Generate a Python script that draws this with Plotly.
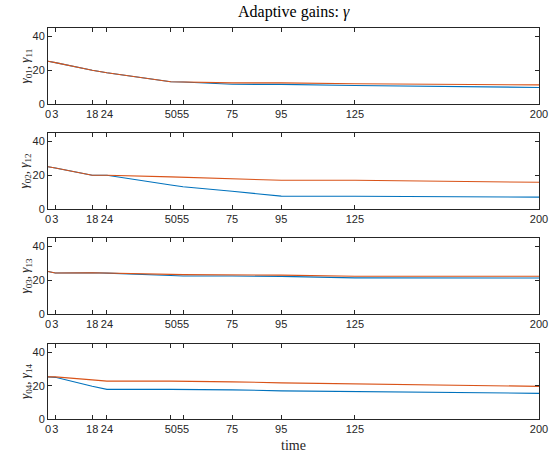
import plotly.graph_objects as go

t = [0, 3, 18, 24, 50, 55, 75, 95, 125, 200]
tick_vals = [0, 3, 18, 24, 50, 55, 75, 95, 125, 200]
tick_text = ["0", "3", "18", "24", "50", "55", "75", "95", "125", "200"]

g01 = [25.3, 24.5, 20.0, 18.5, 13.2, 13.0, 11.7, 11.6, 11.0, 9.8]
g11 = [25.3, 24.5, 20.0, 18.5, 13.2, 13.0, 12.5, 12.5, 12.0, 11.3]
g02 = [25.0, 24.3, 20.0, 20.0, 14.2, 13.2, 10.5, 7.6, 7.5, 7.0]
g12 = [25.0, 24.3, 20.0, 20.0, 19.0, 18.8, 18.0, 17.0, 17.0, 15.8]
g03 = [25.2, 24.3, 24.4, 24.2, 22.8, 22.5, 22.5, 22.3, 21.4, 21.3]
g13 = [25.2, 24.3, 24.4, 24.3, 23.5, 23.3, 23.3, 23.0, 22.4, 22.4]
g04 = [25.3, 25.0, 19.6, 17.8, 17.8, 17.8, 17.5, 16.9, 16.4, 15.4]
g14 = [25.3, 25.3, 23.5, 22.7, 22.7, 22.7, 22.3, 21.7, 21.0, 19.6]

blue_series = [g01, g02, g03, g04]
red_series = [g11, g12, g13, g14]
ylabels = ["<i>γ</i><sub>01</sub>, <i>γ</i><sub>11</sub>", "<i>γ</i><sub>02</sub>, <i>γ</i><sub>12</sub>",
           "<i>γ</i><sub>03</sub>, <i>γ</i><sub>13</sub>", "<i>γ</i><sub>04</sub>, <i>γ</i><sub>14</sub>"]

domains = [(0.8056, 1.0), (0.5371, 0.7315), (0.2685, 0.4629), (0.0, 0.1918)]
axc = "#262626"
fig = go.Figure()
for i in range(4):
    xa = "x" if i == 0 else f"x{i+1}"
    ya = "y" if i == 0 else f"y{i+1}"
    fig.add_trace(go.Scatter(x=t, y=blue_series[i], mode="lines",
                             line=dict(color="#0072BD", width=1.1),
                             xaxis=xa, yaxis=ya, showlegend=False))
    fig.add_trace(go.Scatter(x=t, y=red_series[i], mode="lines",
                             line=dict(color="#D95319", width=1.1),
                             xaxis=xa, yaxis=ya, showlegend=False))
    xkey = "xaxis" if i == 0 else f"xaxis{i+1}"
    ykey = "yaxis" if i == 0 else f"yaxis{i+1}"
    fig.layout[xkey] = dict(domain=[0, 1], anchor=ya, range=[0, 200],
                            tickvals=tick_vals, ticktext=tick_text, tickangle=0,
                            ticklabeloverflow="allow",
                            ticks="inside", ticklen=4, tickcolor=axc,
                            showline=True, mirror="ticks", linecolor=axc, linewidth=1,
                            showgrid=False, zeroline=False,
                            tickfont=dict(family="Liberation Sans", size=11, color=axc))
    fig.layout[ykey] = dict(domain=list(domains[i]), anchor=xa, range=[0, 45],
                            tickvals=[0, 20, 40], tickangle=0,
                            ticks="inside", ticklen=4, tickcolor=axc,
                            showline=True, mirror="ticks", linecolor=axc, linewidth=1,
                            showgrid=False, zeroline=False,
                            tickfont=dict(family="Liberation Sans", size=11, color=axc))
    ymid = (domains[i][0] + domains[i][1]) / 2
    fig.add_annotation(text=ylabels[i], xref="paper", yref="paper",
                       x=-0.046, y=ymid, xanchor="center", yanchor="middle",
                       textangle=-90, showarrow=False,
                       font=dict(family="Liberation Serif", size=13, color=axc))

fig.add_annotation(text="Adaptive gains: <i>γ</i>", xref="paper", yref="paper",
                   x=0.5, y=1.0, yshift=16, xanchor="center", yanchor="middle",
                   showarrow=False, font=dict(family="Liberation Serif", size=16, color="black"))
fig.add_annotation(text="time", xref="paper", yref="paper",
                   x=0.5, y=0, yshift=-26, xanchor="center", yanchor="middle",
                   showarrow=False, font=dict(family="Liberation Serif", size=14, color=axc))

fig.update_layout(width=560, height=458, margin=dict(l=48, r=15, t=28, b=39),
                  paper_bgcolor="white", plot_bgcolor="white")
fig.write_html("out.html", config={"displayModeBar": False},
               post_script="document.body.style.margin='0';document.body.style.overflow='hidden';")
